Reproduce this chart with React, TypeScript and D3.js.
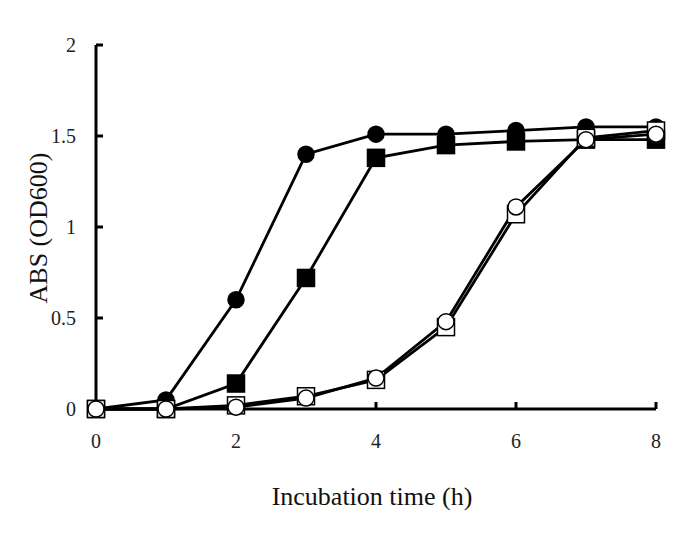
import { useEffect, useRef } from 'react';
import * as d3 from 'd3';

const hours = [0, 1, 2, 3, 4, 5, 6, 7, 8];
const filledCircle = [0, 0.05, 0.6, 1.4, 1.51, 1.51, 1.53, 1.55, 1.55];
const filledSquare = [0, 0.0, 0.14, 0.72, 1.38, 1.45, 1.47, 1.48, 1.48];
const openSquare = [0, 0, 0.02, 0.07, 0.16, 0.45, 1.07, 1.49, 1.53];
const openCircle = [0, 0, 0.01, 0.06, 0.17, 0.48, 1.11, 1.48, 1.51];
const xTicks = [0, 2, 4, 6, 8];
const yTicks = [0, 0.5, 1, 1.5, 2];

const W = 685;
const H = 537;

export default function App() {
  const svgRef = useRef<SVGSVGElement>(null);

  useEffect(() => {
    const svg = d3.select(svgRef.current);
    svg.selectAll('*').remove();

    const x = d3.scaleLinear().domain([0, 8]).range([96, 656]);
    const y = d3.scaleLinear().domain([0, 2]).range([409, 45]);
    const font = '"Liberation Serif", "Times New Roman", serif';

    // axes
    svg.append('line').attr('x1', x(0)).attr('x2', x(0)).attr('y1', y(2)).attr('y2', y(0))
      .attr('stroke', '#000').attr('stroke-width', 3);
    svg.append('line').attr('x1', x(0)).attr('x2', x(8)).attr('y1', y(0)).attr('y2', y(0))
      .attr('stroke', '#000').attr('stroke-width', 3);

    yTicks.forEach(t => {
      svg.append('line').attr('x1', x(0)).attr('x2', x(0) + 7).attr('y1', y(t)).attr('y2', y(t))
        .attr('stroke', '#000').attr('stroke-width', 3);
      svg.append('text').attr('x', x(0) - 20).attr('y', y(t)).attr('text-anchor', 'end')
        .attr('dominant-baseline', 'central').attr('font-family', font).attr('font-size', 20)
        .attr('fill', '#222').text(String(t));
    });
    xTicks.forEach(t => {
      svg.append('line').attr('x1', x(t)).attr('x2', x(t)).attr('y1', y(0)).attr('y2', y(0) - 7)
        .attr('stroke', '#000').attr('stroke-width', 3);
      svg.append('text').attr('x', x(t)).attr('y', y(0) + 39).attr('text-anchor', 'middle')
        .attr('font-family', font).attr('font-size', 20).attr('fill', '#222').text(String(t));
    });

    svg.append('text').attr('x', 372).attr('y', 505).attr('text-anchor', 'middle')
      .attr('font-family', font).attr('font-size', 26).attr('fill', '#111').text('Incubation time (h)');
    svg.append('text').attr('transform', `translate(47,228) rotate(-90)`).attr('text-anchor', 'middle')
      .attr('font-family', font).attr('font-size', 26).attr('fill', '#111').text('ABS (OD600)');

    const line = d3.line<number>().x((_, i) => x(hours[i])).y(d => y(d));

    const series: { data: number[]; shape: 'circle' | 'square'; fill: string }[] = [
      { data: filledCircle, shape: 'circle', fill: '#000' },
      { data: filledSquare, shape: 'square', fill: '#000' },
      { data: openSquare, shape: 'square', fill: '#fff' },
      { data: openCircle, shape: 'circle', fill: '#fff' },
    ];

    series.forEach(s => {
      svg.append('path').datum(s.data).attr('d', line).attr('fill', 'none')
        .attr('stroke', '#000').attr('stroke-width', 2.8);
    });
    series.forEach(s => {
      const g = svg.append('g');
      if (s.shape === 'circle') {
        g.selectAll('circle').data(s.data).join('circle')
          .attr('cx', (_, i) => x(hours[i])).attr('cy', d => y(d)).attr('r', 8)
          .attr('fill', s.fill).attr('stroke', '#000').attr('stroke-width', 1.5);
      } else {
        g.selectAll('rect').data(s.data).join('rect')
          .attr('x', (_, i) => x(hours[i]) - 8.5).attr('y', d => y(d) - 8.5)
          .attr('width', 17).attr('height', 17)
          .attr('fill', s.fill).attr('stroke', '#000').attr('stroke-width', 1.5);
      }
    });
  }, []);

  return <svg ref={svgRef} width={W} height={H} style={{ position: 'absolute', left: 0, top: 0, background: '#fff' }} />;
}
